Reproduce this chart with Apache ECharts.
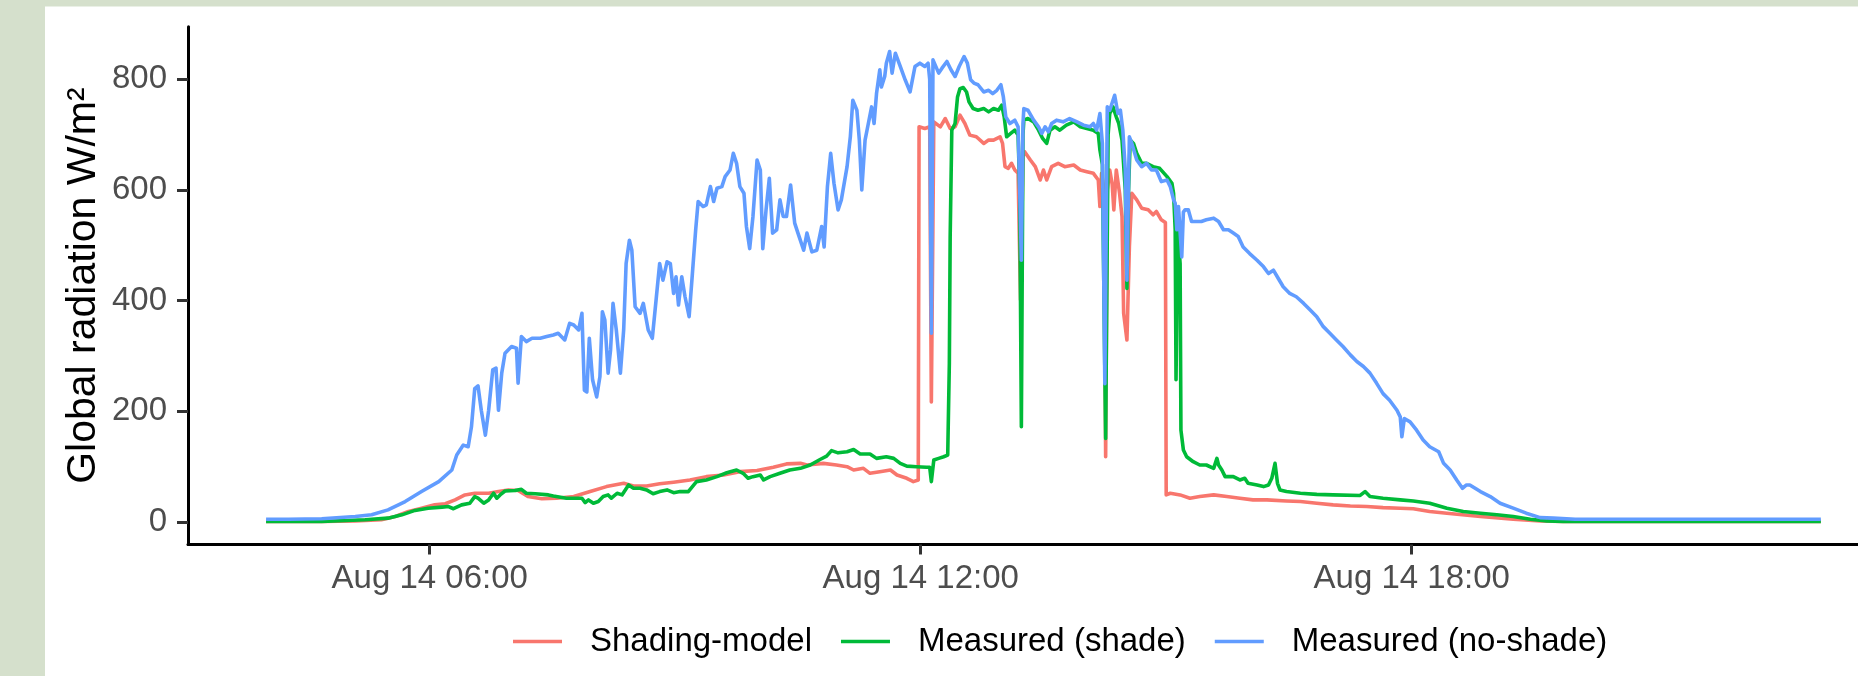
<!DOCTYPE html>
<html>
<head>
<meta charset="utf-8">
<title>Global radiation</title>
<script src="https://cdn.jsdelivr.net/npm/echarts@6/dist/echarts.min.js"></script>
<style>
  html, body { margin: 0; padding: 0; background: #d5e0cc; }
  #main { width: 1858px; height: 676px; }
</style>
</head>
<body>
<div id="main"></div>
<script>
// hours of Aug 14 (decimal) and W/m2
var modelHours = [4.00, 4.68, 5.09, 5.41, 5.58, 5.74, 5.90, 6.06, 6.19, 6.31,
  6.43, 6.55, 6.72, 6.84, 6.96, 7.08, 7.20, 7.37, 7.55, 7.76,
  7.96, 8.16, 8.37, 8.49, 8.65, 8.81, 8.98, 9.18, 9.38, 9.59,
  9.79, 10.00, 10.20, 10.36, 10.53, 10.61, 10.81, 10.97, 11.10, 11.18,
  11.30, 11.38, 11.50, 11.63, 11.71, 11.83, 11.91, 11.97, 11.98, 12.05,
  12.11, 12.13, 12.16, 12.24, 12.30, 12.36, 12.42, 12.48, 12.54, 12.60,
  12.68, 12.77, 12.83, 12.89, 12.97, 13.00, 13.03, 13.07, 13.11, 13.15,
  13.19, 13.22, 13.25, 13.27, 13.34, 13.40, 13.46, 13.50, 13.54, 13.60,
  13.68, 13.76, 13.87, 13.95, 14.03, 14.11, 14.17, 14.19, 14.21, 14.24,
  14.26, 14.28, 14.31, 14.34, 14.36, 14.39, 14.43, 14.46, 14.48, 14.52,
  14.55, 14.58, 14.64, 14.70, 14.78, 14.84, 14.88, 14.94, 14.99, 15.00,
  15.05, 15.17, 15.29, 15.41, 15.58, 15.74, 15.90, 16.06, 16.23, 16.47,
  16.64, 16.84, 17.04, 17.25, 17.45, 17.65, 17.86, 18.02, 18.22, 18.43,
  18.84, 19.24, 19.57, 19.85, 21.00, 23.00];
var modelValues = [1, 1, 2, 4, 10, 19, 25, 31, 33, 40,
  49, 52, 52, 55, 58, 57, 46, 42, 43, 46,
  55, 64, 70, 65, 65, 69, 72, 76, 82, 85,
  91, 93, 99, 105, 106, 103, 106, 103, 100, 94,
  97, 88, 91, 94, 85, 79, 73, 76, 714, 711,
  714, 217, 723, 714, 729, 711, 714, 735, 720, 699,
  696, 684, 690, 690, 696, 684, 642, 639, 648, 636,
  630, 401, 660, 669, 654, 642, 618, 636, 618, 642,
  648, 642, 645, 636, 633, 630, 618, 570, 630, 600,
  118, 600, 636, 610, 564, 636, 594, 552, 377, 329,
  497, 594, 582, 567, 564, 555, 561, 546, 541, 49,
  52, 49, 43, 46, 49, 46, 43, 40, 40, 38,
  37, 34, 31, 29, 28, 26, 25, 24, 19, 16,
  10, 5, 2, 1, 1, 1];

var shadeHours = [4.00, 4.68, 5.21, 5.49, 5.66, 5.82, 5.98, 6.15, 6.23, 6.29,
  6.39, 6.49, 6.55, 6.59, 6.66, 6.72, 6.78, 6.82, 6.86, 6.92,
  7.04, 7.12, 7.18, 7.29, 7.45, 7.51, 7.67, 7.86, 7.90, 7.94,
  8.00, 8.06, 8.12, 8.18, 8.22, 8.29, 8.35, 8.43, 8.49, 8.57,
  8.65, 8.73, 8.81, 8.90, 8.98, 9.06, 9.16, 9.26, 9.38, 9.51,
  9.63, 9.75, 9.83, 9.89, 9.95, 10.04, 10.08, 10.16, 10.28, 10.40,
  10.53, 10.65, 10.77, 10.85, 10.91, 10.99, 11.10, 11.18, 11.26, 11.38,
  11.46, 11.58, 11.67, 11.75, 11.83, 11.95, 12.07, 12.11, 12.13, 12.16,
  12.22, 12.28, 12.33, 12.35, 12.36, 12.38, 12.42, 12.45, 12.48, 12.52,
  12.56, 12.59, 12.64, 12.70, 12.77, 12.83, 12.89, 12.95, 12.99, 13.02,
  13.05, 13.10, 13.15, 13.19, 13.21, 13.23, 13.25, 13.26, 13.31, 13.38,
  13.44, 13.49, 13.54, 13.58, 13.64, 13.70, 13.78, 13.87, 13.95, 14.03,
  14.11, 14.17, 14.19, 14.22, 14.26, 14.29, 14.31, 14.35, 14.39, 14.42,
  14.46, 14.50, 14.52, 14.54, 14.56, 14.60, 14.64, 14.70, 14.76, 14.84,
  14.92, 15.01, 15.07, 15.09, 15.11, 15.12, 15.14, 15.17, 15.18, 15.21,
  15.25, 15.33, 15.41, 15.49, 15.58, 15.62, 15.64, 15.68, 15.72, 15.82,
  15.90, 15.96, 16.00, 16.11, 16.19, 16.25, 16.29, 16.33, 16.36, 16.39,
  16.47, 16.64, 16.84, 17.04, 17.37, 17.43, 17.49, 17.65, 17.86, 18.02,
  18.22, 18.43, 18.63, 18.84, 19.04, 19.24, 19.45, 19.65, 19.85, 21.00,
  23.00];
var shadeValues = [1, 1, 4, 7, 13, 21, 25, 27, 28, 24,
  31, 34, 46, 43, 34, 40, 52, 43, 49, 56,
  57, 59, 52, 51, 49, 47, 43, 43, 35, 40,
  34, 37, 46, 49, 43, 52, 49, 67, 61, 61,
  58, 51, 55, 58, 53, 55, 55, 73, 76, 82,
  89, 94, 88, 79, 82, 85, 76, 82, 88, 94,
  97, 103, 113, 119, 129, 125, 127, 131, 123, 123,
  115, 118, 115, 106, 101, 100, 99, 99, 73, 112,
  115, 118, 121, 287, 515, 708, 720, 768, 783, 785,
  777, 759, 747, 744, 747, 741, 747, 744, 753, 732,
  696, 702, 708, 699, 600, 172, 700, 726, 729, 723,
  708, 693, 684, 708, 714, 708, 717, 723, 714, 711,
  708, 702, 672, 646, 151, 700, 738, 750, 732, 720,
  690, 600, 422, 600, 690, 684, 666, 648, 648, 642,
  639, 624, 612, 594, 528, 257, 528, 467, 166, 130,
  118, 109, 103, 103, 97, 115, 103, 94, 82, 82,
  76, 79, 70, 67, 64, 67, 79, 106, 70, 58,
  55, 52, 50, 49, 48, 55, 46, 43, 40, 38,
  34, 25, 19, 16, 13, 10, 5, 2, 1, 1,
  1];

var noShadeHours = [4.00, 4.27, 4.68, 5.09, 5.29, 5.49, 5.70, 5.90, 6.11, 6.27,
  6.33, 6.41, 6.47, 6.51, 6.55, 6.59, 6.63, 6.68, 6.72, 6.77,
  6.81, 6.84, 6.88, 6.92, 7.00, 7.06, 7.08, 7.12, 7.18, 7.25,
  7.35, 7.43, 7.51, 7.57, 7.65, 7.71, 7.76, 7.82, 7.86, 7.89,
  7.92, 7.95, 7.99, 8.04, 8.08, 8.11, 8.14, 8.18, 8.21, 8.24,
  8.28, 8.33, 8.37, 8.40, 8.44, 8.47, 8.51, 8.57, 8.61, 8.67,
  8.72, 8.77, 8.81, 8.85, 8.90, 8.94, 8.98, 9.01, 9.04, 9.08,
  9.12, 9.17, 9.21, 9.25, 9.28, 9.34, 9.38, 9.43, 9.47, 9.51,
  9.57, 9.61, 9.67, 9.71, 9.75, 9.79, 9.84, 9.87, 9.91, 9.95,
  10.00, 10.04, 10.07, 10.11, 10.15, 10.19, 10.24, 10.28, 10.32, 10.36,
  10.41, 10.46, 10.50, 10.57, 10.61, 10.67, 10.73, 10.79, 10.82, 10.86,
  10.90, 10.94, 10.99, 11.03, 11.10, 11.14, 11.17, 11.22, 11.25, 11.28,
  11.32, 11.36, 11.40, 11.43, 11.46, 11.50, 11.52, 11.56, 11.58, 11.62,
  11.65, 11.69, 11.75, 11.81, 11.87, 11.93, 11.99, 12.05, 12.09, 12.11,
  12.13, 12.15, 12.22, 12.26, 12.32, 12.37, 12.42, 12.47, 12.53, 12.57,
  12.61, 12.65, 12.70, 12.77, 12.83, 12.88, 12.93, 12.98, 13.01, 13.04,
  13.09, 13.15, 13.19, 13.21, 13.23, 13.25, 13.26, 13.31, 13.38, 13.44,
  13.48, 13.52, 13.56, 13.60, 13.66, 13.74, 13.82, 13.91, 13.99, 14.07,
  14.11, 14.15, 14.19, 14.22, 14.25, 14.28, 14.31, 14.33, 14.37, 14.41,
  14.44, 14.47, 14.50, 14.52, 14.55, 14.58, 14.64, 14.70, 14.76, 14.82,
  14.88, 14.94, 15.01, 15.05, 15.09, 15.11, 15.13, 15.15, 15.17, 15.19,
  15.21, 15.23, 15.27, 15.31, 15.37, 15.43, 15.49, 15.58, 15.64, 15.70,
  15.76, 15.82, 15.88, 15.94, 16.02, 16.11, 16.19, 16.25, 16.31, 16.37,
  16.43, 16.51, 16.59, 16.68, 16.76, 16.84, 16.92, 17.00, 17.08, 17.16,
  17.25, 17.33, 17.41, 17.49, 17.57, 17.65, 17.73, 17.82, 17.86, 17.88,
  17.91, 17.98, 18.06, 18.14, 18.22, 18.33, 18.39, 18.47, 18.55, 18.62,
  18.67, 18.71, 18.84, 18.96, 19.08, 19.24, 19.40, 19.57, 19.73, 20.00,
  23.00];
var noShadeValues = [5, 5, 6, 10, 13, 22, 37, 55, 73, 94,
  121, 139, 136, 172, 241, 246, 202, 157, 202, 275,
  278, 202, 269, 305, 317, 314, 251, 335, 326, 332,
  332, 335, 338, 341, 329, 359, 356, 347, 377, 238,
  235, 332, 257, 226, 263, 380, 365, 269, 311, 395,
  347, 269, 347, 467, 509, 491, 389, 377, 395, 347,
  332, 407, 467, 437, 470, 467, 413, 443, 392, 443,
  407, 371, 449, 528, 579, 570, 573, 606, 579, 603,
  606, 624, 636, 666, 648, 606, 594, 534, 494, 552,
  654, 636, 494, 564, 621, 522, 528, 582, 552, 552,
  609, 540, 522, 491, 522, 488, 491, 534, 497, 606,
  666, 612, 564, 582, 642, 696, 762, 744, 690, 600,
  690, 720, 750, 720, 774, 817, 786, 805, 829, 850,
  811, 847, 823, 799, 777, 823, 829, 823, 829, 800,
  341, 835, 811, 820, 832, 817, 805, 823, 841, 829,
  799, 793, 790, 777, 780, 774, 780, 790, 768, 732,
  720, 726, 714, 600, 473, 720, 747, 744, 726, 714,
  702, 714, 705, 720, 726, 723, 729, 723, 717, 714,
  720, 708, 738, 684, 250, 750, 744, 753, 771, 738,
  744, 708, 636, 437, 696, 684, 654, 642, 648, 636,
  636, 615, 618, 606, 582, 576, 528, 570, 570, 479,
  560, 564, 564, 543, 543, 543, 546, 549, 543, 528,
  528, 522, 516, 497, 485, 473, 461, 449, 455, 440,
  425, 413, 407, 395, 383, 371, 353, 341, 329, 317,
  302, 290, 281, 269, 251, 232, 220, 202, 190, 154,
  187, 181, 166, 148, 136, 127, 106, 94, 76, 61,
  67, 67, 55, 46, 34, 25, 16, 8, 7, 5,
  5];

var seriesNames = ['Shading-model', 'Measured (shade)', 'Measured (no-shade)'];
var seriesColors = ['#F8766D', '#00BA38', '#619CFF'];
var xTicks = [6, 12, 18];
var yTicks = [0, 200, 400, 600, 800];

var font = '"Liberation Sans", Arial, sans-serif';

function pairs(hours, values) {
    return hours.map(function (h, i) { return [h, values[i]]; });
}

function lineSeries(idx, hours, values) {
    return {
        name: seriesNames[idx],
        type: 'line',
        data: pairs(hours, values),
        showSymbol: false,
        symbol: 'none',
        animation: false,
        color: seriesColors[idx],
        lineStyle: { width: 3.6, color: seriesColors[idx], join: 'round' },
        itemStyle: { color: seriesColors[idx] }
    };
}

var chart = echarts.init(document.getElementById('main'));
chart.setOption({
    backgroundColor: '#d5e0cc',
    animation: false,
    graphic: [
        {
            type: 'rect', z: -10, silent: true,
            shape: { x: 45, y: 6.5, width: 1813, height: 670 },
            style: { fill: '#ffffff' }
        },
        {
            type: 'text', x: 83.5, y: 285.6, rotation: Math.PI / 2, silent: true,
            style: {
                text: 'Global radiation W/m\u00b2',
                font: '41px ' + font,
                fill: '#000000',
                align: 'center',
                verticalAlign: 'middle'
            }
        }
    ],
    grid: {
        left: 188, right: 0, top: 26.8, bottom: 131.5,
        containLabel: false, outerBoundsMode: 'none'
    },
    legend: {
        data: seriesNames,
        left: 513, top: 625, padding: 0,
        icon: 'rect', itemWidth: 49, itemHeight: 3.5, itemGap: 29,
        textStyle: { fontSize: 33, color: '#000000', fontFamily: font, padding: [0, 0, 0, 23] }
    },
    xAxis: {
        type: 'value',
        min: 3.046, max: 23.454,
        splitLine: { show: false },
        axisLine: { show: true, onZero: false, lineStyle: { color: '#000000', width: 3 } },
        axisTick: { show: true, customValues: xTicks, length: 10, lineStyle: { color: '#333333', width: 3 } },
        axisLabel: {
            customValues: xTicks,
            color: '#4D4D4D', fontSize: 33, fontFamily: font, margin: 18,
            formatter: function (v) { return 'Aug 14 ' + (v < 10 ? '0' : '') + v + ':00'; }
        }
    },
    yAxis: {
        type: 'value',
        min: -40.6, max: 894.7,
        splitLine: { show: false },
        axisLine: { show: true, onZero: false, lineStyle: { color: '#000000', width: 3 } },
        axisTick: { show: true, customValues: yTicks, length: 11, lineStyle: { color: '#333333', width: 3 } },
        axisLabel: { customValues: yTicks, color: '#4D4D4D', fontSize: 33, fontFamily: font, margin: 21 }
    },
    series: [
        lineSeries(0, modelHours, modelValues),
        lineSeries(1, shadeHours, shadeValues),
        lineSeries(2, noShadeHours, noShadeValues)
    ]
});
</script>
</body>
</html>
